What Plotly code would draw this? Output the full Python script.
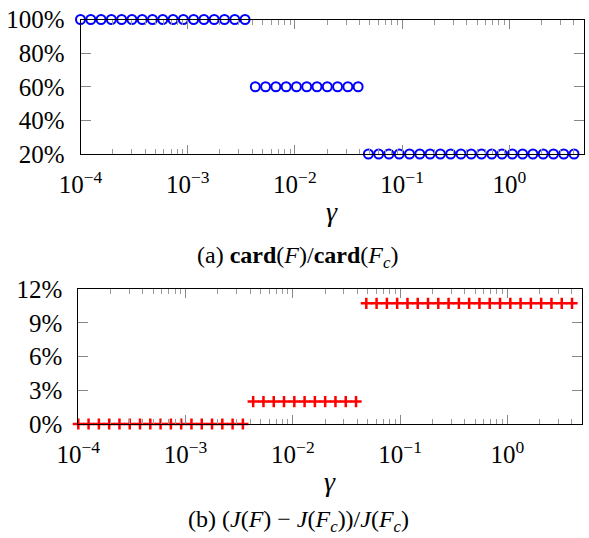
import plotly.graph_objects as go

# gamma values (50 log-spaced points from 1e-4 to 5)
gamma = [1.000e-4, 1.247e-4, 1.555e-4, 1.940e-4, 2.419e-4, 3.017e-4, 3.762e-4, 4.692e-4,
         5.852e-4, 7.298e-4, 9.101e-4, 1.135e-3, 1.416e-3, 1.765e-3, 2.202e-3, 2.746e-3,
         3.424e-3, 4.270e-3, 5.325e-3, 6.641e-3, 8.282e-3, 1.033e-2, 1.288e-2, 1.606e-2,
         2.003e-2, 2.498e-2, 3.115e-2, 3.885e-2, 4.845e-2, 6.042e-2, 7.535e-2, 9.395e-2,
         1.172e-1, 1.461e-1, 1.822e-1, 2.272e-1, 2.834e-1, 3.534e-1, 4.407e-1, 5.496e-1,
         6.855e-1, 8.549e-1, 1.066, 1.329, 1.658, 2.068, 2.579, 3.216, 4.010, 5.000]

# (a) card(F)/card(Fc) in %
card_ratio = [100, 100, 100, 100, 100, 100, 100, 100, 100, 100, 100, 100, 100, 100, 100, 100, 100,
              60, 60, 60, 60, 60, 60, 60, 60, 60, 60, 60,
              20, 20, 20, 20, 20, 20, 20, 20, 20, 20, 20, 20, 20, 20, 20, 20, 20, 20, 20, 20, 20, 20]

# (b) (J(F)-J(Fc))/J(Fc) in %
j_ratio = [0, 0, 0, 0, 0, 0, 0, 0, 0, 0, 0, 0, 0, 0, 0, 0, 0,
           2, 2, 2, 2, 2, 2, 2, 2, 2, 2, 2,
           10.75, 10.75, 10.75, 10.75, 10.75, 10.75, 10.75, 10.75, 10.75, 10.75, 10.75,
           10.75, 10.75, 10.75, 10.75, 10.75, 10.75, 10.75, 10.75, 10.75, 10.75, 10.75]

x_tickvals = [1e-4, 1e-3, 1e-2, 1e-1, 1e0]
x_ticktext = ["10<sup>−4</sup>", "10<sup>−3</sup>", "10<sup>−2</sup>", "10<sup>−1</sup>", "10<sup>0</sup>"]
x_minor = [m * 10 ** e for e in range(-4, 1) for m in range(2, 10) if m * 10 ** e <= 5]

top_yvals = [20, 40, 60, 80, 100]
bot_yvals = [0, 3, 6, 9, 12]

FONT = "Liberation Serif"
W, H = 589, 538

fig = go.Figure()
fig.add_trace(go.Scatter(x=gamma, y=card_ratio, mode="markers", xaxis="x", yaxis="y",
                         marker=dict(symbol="circle-open", size=9, color="#0000ff",
                                     line=dict(width=2, color="#0000ff")),
                         cliponaxis=False, showlegend=False))
fig.add_trace(go.Scatter(x=gamma, y=j_ratio, mode="markers", xaxis="x2", yaxis="y2",
                         marker=dict(symbol="cross-thin-open", size=8, color="#ff0000",
                                     line=dict(width=2.5, color="#ff0000")),
                         cliponaxis=False, showlegend=False))

def xaxis(dom, anchor):
    return dict(type="log", range=[-4, 0.69897], domain=dom, anchor=anchor,
                tickvals=x_tickvals, ticktext=x_ticktext, automargin=False,
                ticks="inside", ticklen=9, tickcolor="#888888", tickwidth=1,
                minor=dict(tickvals=x_minor, ticks="inside", ticklen=5,
                           tickcolor="#999999", tickwidth=1, showgrid=False),
                showline=True, linecolor="black", linewidth=1, mirror="ticks",
                showgrid=False, zeroline=False, ticklabelstandoff=8,
                tickfont=dict(family=FONT, size=25, color="black"))

def yaxis(dom, anchor, rng, vals):
    return dict(range=rng, domain=dom, anchor=anchor, tickvals=vals,
                ticktext=[f"{v}%" for v in vals], automargin=False,
                ticks="inside", ticklen=10, tickcolor="#888888", tickwidth=1,
                showline=True, linecolor="black", linewidth=1, mirror="ticks",
                showgrid=False, zeroline=False, ticklabelstandoff=10,
                tickfont=dict(family=FONT, size=25, color="black"))

fig.update_layout(
    width=W, height=H, margin=dict(l=0, r=0, t=0, b=0, pad=0, autoexpand=False),
    paper_bgcolor="white", plot_bgcolor="white",
    xaxis=xaxis([80.5 / W, 584.3 / W], "y"),
    yaxis=yaxis([1 - 154 / H, 1 - 19.5 / H], "x", [20, 100], top_yvals),
    xaxis2=xaxis([78.3 / W, 582.3 / W], "y2"),
    yaxis2=yaxis([1 - 424 / H, 1 - 289.3 / H], "x2", [0, 12], bot_yvals),
    annotations=[
        dict(text="<i>γ</i>", x=332 / W, y=1 - 211 / H, xref="paper", yref="paper",
             showarrow=False, xanchor="center", yanchor="middle",
             font=dict(family=FONT, size=28, color="black")),
        dict(text="(a) <b>card</b>(<i>F</i>)/<b>card</b>(<i>F<sub>c</sub></i>)",
             x=297 / W, y=1 - 257 / H, xref="paper", yref="paper",
             showarrow=False, xanchor="center", yanchor="middle",
             font=dict(family=FONT, size=24, color="black")),
        dict(text="<i>γ</i>", x=330 / W, y=1 - 481 / H, xref="paper", yref="paper",
             showarrow=False, xanchor="center", yanchor="middle",
             font=dict(family=FONT, size=28, color="black")),
        dict(text="(b) (<i>J</i>(<i>F</i>) − <i>J</i>(<i>F<sub>c</sub></i>))/<i>J</i>(<i>F<sub>c</sub></i>)",
             x=298 / W, y=1 - 521 / H, xref="paper", yref="paper",
             showarrow=False, xanchor="center", yanchor="middle",
             font=dict(family=FONT, size=24, color="black")),
    ],
)

fig.write_html("out.html")
